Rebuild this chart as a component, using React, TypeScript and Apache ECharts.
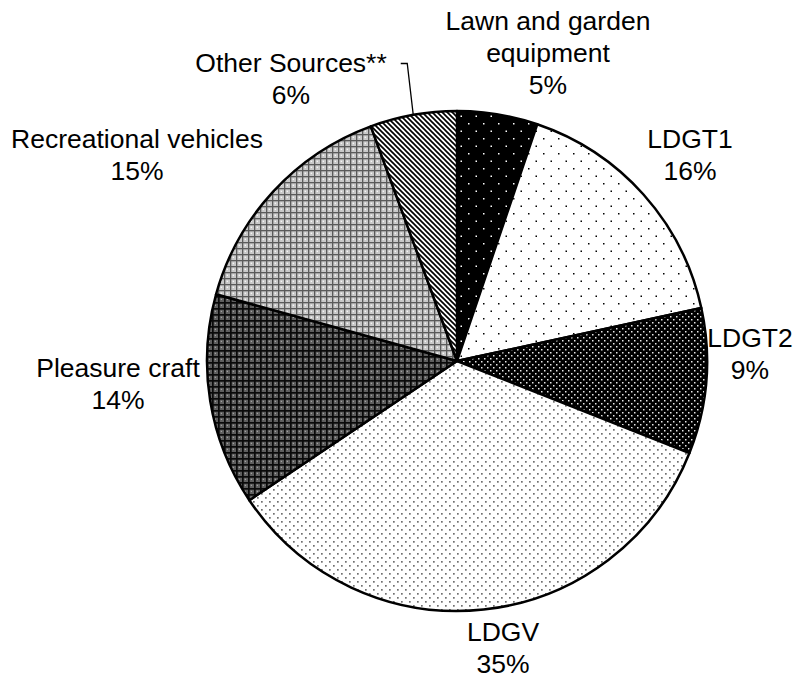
import React, { useEffect, useRef } from "react";
import * as echarts from "echarts";

const CATEGORIES = [
  "Lawn and garden\nequipment",
  "LDGT1",
  "LDGT2",
  "LDGV",
  "Pleasure craft",
  "Recreational vehicles",
  "Other Sources**",
];
const SHARES = [5.2, 16.4, 9.4, 34.6, 13.7, 15.1, 5.6];

// label block centres, relative to pie centre (style only)
const LABEL_OFFSETS: [number, number][] = [
  [91, -308],
  [233, -206],
  [293, -7],
  [46, 287],
  [-339, 23],
  [-320, -206],
  [-166, -282],
];

function makeTile(w: number, h: number, draw: (c: CanvasRenderingContext2D) => void) {
  const cv = document.createElement("canvas");
  cv.width = w;
  cv.height = h;
  const c = cv.getContext("2d")!;
  draw(c);
  return { image: cv.toDataURL(), repeat: "repeat", imageWidth: w, imageHeight: h } as any;
}

function dots(bg: string, fg: string, w: number, h: number, pts: [number, number][], s: number) {
  return makeTile(w, h, (c) => {
    c.fillStyle = bg;
    c.fillRect(0, 0, w, h);
    c.fillStyle = fg;
    pts.forEach(([x, y]) => c.fillRect(x, y, s, s));
  });
}

export default function App() {
  const ref = useRef<HTMLDivElement>(null);
  useEffect(() => {
    const chart = echarts.init(ref.current!, null, { renderer: "svg" });
    const cx = 457, cy = 361, R = 250;
    const LH = 32;
    const total = SHARES.reduce((a, b) => a + b, 0);
    const midAngles: number[] = [];
    let acc = 0;
    SHARES.forEach((v) => {
      midAngles.push(((acc + v / 2) / total) * Math.PI * 2);
      acc += v;
    });
    const patterns = [
      dots("#000", "#fff", 15, 15, [[3, 3], [10.5, 10.5]], 1.5),
      dots("#fff", "#000", 15, 15, [[3, 3], [10.5, 10.5]], 1.5),
      dots("#000", "#e8e8e8", 6, 6, [[1, 1], [4, 4]], 1.5),
      dots("#fff", "#707070", 8, 8, [[1, 1], [5, 5]], 1.7),
      makeTile(6, 6, (c) => {
        c.fillStyle = "#5e5e5e";
        c.fillRect(0, 0, 6, 6);
        c.fillStyle = "#0a0a0a";
        c.fillRect(0, 2, 6, 1.7);
        c.fillRect(2, 0, 1.7, 6);
        c.fillStyle = "#c8c8c8";
        c.fillRect(4.8, 4.8, 1, 1);
      }),
      makeTile(6, 6, (c) => {
        c.fillStyle = "#c8c8c8";
        c.fillRect(0, 0, 6, 6);
        c.fillStyle = "#5a5a5a";
        c.fillRect(0, 2, 6, 1.3);
        c.fillRect(2, 0, 1.3, 6);
        c.fillStyle = "#fff";
        c.fillRect(4.7, 4.7, 1.2, 1.2);
      }),
      makeTile(5, 5, (c) => {
        c.fillStyle = "#fff";
        c.fillRect(0, 0, 5, 5);
        c.strokeStyle = "#000";
        c.lineWidth = 1.7;
        for (let k = -1; k <= 1; k++) {
          c.beginPath();
          c.moveTo(k * 5 - 1, -1);
          c.lineTo(k * 5 + 6, 6);
          c.stroke();
        }
      }),
    ];

    const data = CATEGORIES.map((name, i) => ({
      name,
      value: SHARES[i],
      itemStyle: { color: patterns[i] },
      labelLine: { show: i === 6 },
    }));

    chart.setOption({
      animation: false,
      series: [
        {
          type: "pie",
          center: [cx, cy],
          radius: [0, R],
          startAngle: 90,
          clockwise: true,
          percentPrecision: 0,
          avoidLabelOverlap: false,
          itemStyle: { borderColor: "#000", borderWidth: 2.5 },
          emphasis: { disabled: true },
          label: {
            show: true,
            position: "outside",
            formatter: "{b}\n{d}%",
            fontFamily: "Liberation Sans, Arial, sans-serif",
            fontSize: 26.5,
            lineHeight: LH,
            color: "#000",
            align: "center",
          },
          labelLine: {
            show: false,
            length: 20,
            length2: 8,
            smooth: false,
            lineStyle: { color: "#000", width: 1.3, type: "solid", opacity: 1 },
          },
          labelLayout: (params: any) => {
            const i = params.dataIndex;
            const o = LABEL_OFFSETS[i];
            const x = cx + o[0];
            const y = cy + o[1];
            const res: any = { x, y, align: "center", verticalAlign: "middle" };
            if (i === 6) {
              const a = midAngles[i];
              const ex = cx + R * Math.sin(a);
              const ey = cy - R * Math.cos(a);
              const w = params.labelRect ? params.labelRect.width : 190;
              const h = params.labelRect ? params.labelRect.height : 2 * LH;
              const lineY = Math.round(y - h / 2 + LH / 2) + 0.5;
              const right = x + w / 2 + 14;
              res.labelLinePoints = [
                [ex, ey],
                [ex - 6, lineY],
                [right, lineY],
              ];
            }
            return res;
          },
          data,
        },
      ],
    });
    return () => chart.dispose();
  }, []);
  return (
    <div
      ref={ref}
      style={{ position: "fixed", left: 0, top: 0, width: 802, height: 683, background: "#fff" }}
    />
  );
}
